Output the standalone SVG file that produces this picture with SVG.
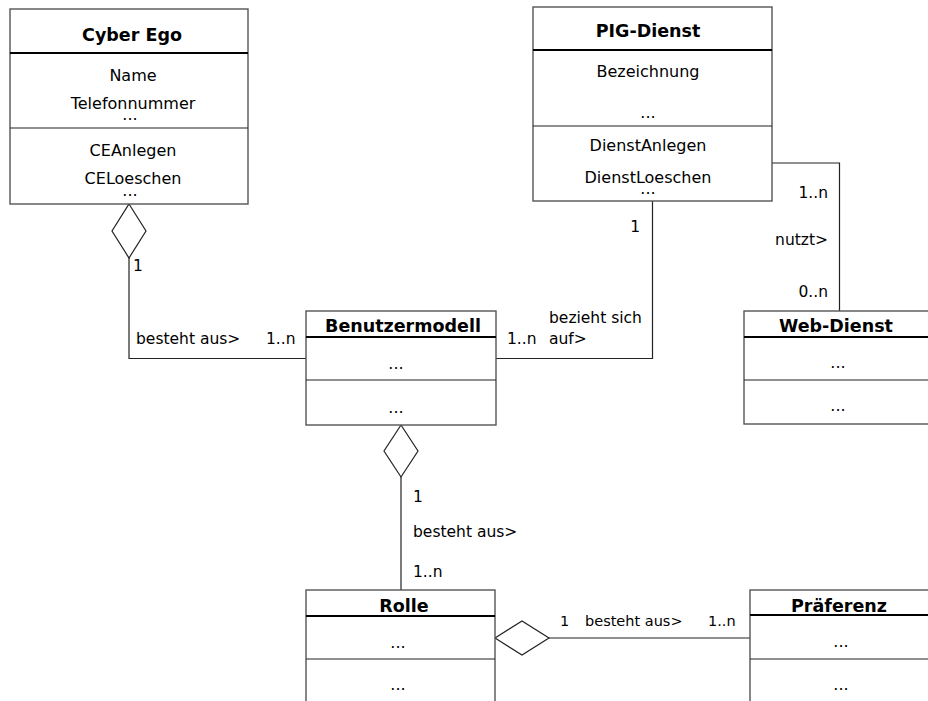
<svg xmlns="http://www.w3.org/2000/svg" width="928" height="701" viewBox="0 0 928 701">
<style>
.box{fill:#fff;stroke:#555;stroke-width:1.4}
.hd{stroke:#000;stroke-width:2.2}
.dv{stroke:#222;stroke-width:1.2}
.t{font-family:"DejaVu Sans",Verdana,sans-serif;font-weight:bold;font-size:17.5px;text-anchor:middle;fill:#000}
.a{font-family:"DejaVu Sans",Verdana,sans-serif;font-size:16px;text-anchor:middle;fill:#000}
.l{font-family:"DejaVu Sans",Verdana,sans-serif;font-size:15.5px;fill:#000}
.c{fill:none;stroke:#222;stroke-width:1.2}
.dia{fill:#fff;stroke:#222;stroke-width:1.2}
</style>
<rect width="928" height="701" fill="#fff"/>
<g id="connectors">
<polyline class="c" points="129,258 129,358.5 306,358.5"/>
<polygon class="dia" points="129,204 146,231 129,258 112,231"/>
<text class="l" x="133" y="271">1</text>
<text class="l" x="136" y="344">besteht aus&gt;</text>
<text class="l" x="266" y="344">1..n</text>
<polyline class="c" points="496,358.5 652.5,358.5 652.5,201"/>
<text class="l" x="640" y="232" text-anchor="end">1</text>
<text class="l" x="507" y="344">1..n</text>
<text class="l" x="549" y="323">bezieht sich</text>
<text class="l" x="549" y="344">auf&gt;</text>
<polyline class="c" points="772,163 839.5,163 839.5,311"/>
<text class="l" x="828" y="198" text-anchor="end">1..n</text>
<text class="l" x="828" y="245" text-anchor="end">nutzt&gt;</text>
<text class="l" x="828" y="297" text-anchor="end">0..n</text>
<line class="c" x1="401" y1="477" x2="401" y2="590"/>
<polygon class="dia" points="401,425 418,451 401,477 384,451"/>
<text class="l" x="413" y="502">1</text>
<text class="l" x="413" y="537">besteht aus&gt;</text>
<text class="l" x="413" y="577">1..n</text>
<line class="c" x1="549" y1="638" x2="750" y2="638"/>
<polygon class="dia" points="495,638 522,621 549,638 522,655"/>
<text class="l" x="560" y="626" style="font-size:14.5px">1</text>
<text class="l" x="585" y="626" style="font-size:14.5px">besteht aus&gt;</text>
<text class="l" x="708" y="626" style="font-size:14.5px">1..n</text>
</g>
<g id="cyber-ego">
<rect class="box" x="10" y="9" width="238" height="195"/>
<line class="hd" x1="10" y1="53" x2="248" y2="53"/>
<line class="dv" x1="10" y1="128" x2="248" y2="128"/>
<text class="t" x="132" y="41">Cyber Ego</text>
<text class="a" x="133" y="81">Name</text>
<text class="a" x="133" y="109">Telefonnummer</text>
<text class="a" x="130" y="120">...</text>
<text class="a" x="133" y="156">CEAnlegen</text>
<text class="a" x="133" y="184">CELoeschen</text>
<text class="a" x="130" y="196">...</text>
</g>
<g id="pig-dienst">
<rect class="box" x="533" y="7" width="239" height="194"/>
<line class="hd" x1="533" y1="50" x2="772" y2="50"/>
<line class="dv" x1="533" y1="126" x2="772" y2="126"/>
<text class="t" x="648" y="37">PIG-Dienst</text>
<text class="a" x="648" y="77">Bezeichnung</text>
<text class="a" x="648" y="118">...</text>
<text class="a" x="648" y="151">DienstAnlegen</text>
<text class="a" x="648" y="183">DienstLoeschen</text>
<text class="a" x="648" y="194">...</text>
</g>
<g id="benutzermodell">
<rect class="box" x="306" y="311" width="190" height="114"/>
<line class="hd" x1="306" y1="337" x2="496" y2="337"/>
<line class="dv" x1="306" y1="380" x2="496" y2="380"/>
<text class="t" x="403" y="332">Benutzermodell</text>
<text class="a" x="396" y="369">...</text>
<text class="a" x="396" y="413">...</text>
</g>
<g id="web-dienst">
<rect class="box" x="744" y="311" width="190" height="113"/>
<line class="hd" x1="744" y1="337" x2="934" y2="337"/>
<line class="dv" x1="744" y1="380" x2="934" y2="380"/>
<text class="t" x="836" y="332">Web-Dienst</text>
<text class="a" x="838" y="368">...</text>
<text class="a" x="838" y="411">...</text>
</g>
<g id="rolle">
<rect class="box" x="306" y="590" width="189" height="130"/>
<line class="hd" x1="306" y1="616" x2="495" y2="616"/>
<line class="dv" x1="306" y1="659" x2="495" y2="659"/>
<text class="t" x="404" y="612">Rolle</text>
<text class="a" x="398" y="648">...</text>
<text class="a" x="398" y="690">...</text>
</g>
<g id="praeferenz">
<rect class="box" x="750" y="590" width="185" height="130"/>
<line class="hd" x1="750" y1="615" x2="935" y2="615"/>
<line class="dv" x1="750" y1="659" x2="935" y2="659"/>
<text class="t" x="839" y="612">Präferenz</text>
<text class="a" x="841" y="647">...</text>
<text class="a" x="841" y="690">...</text>
</g>
</svg>
